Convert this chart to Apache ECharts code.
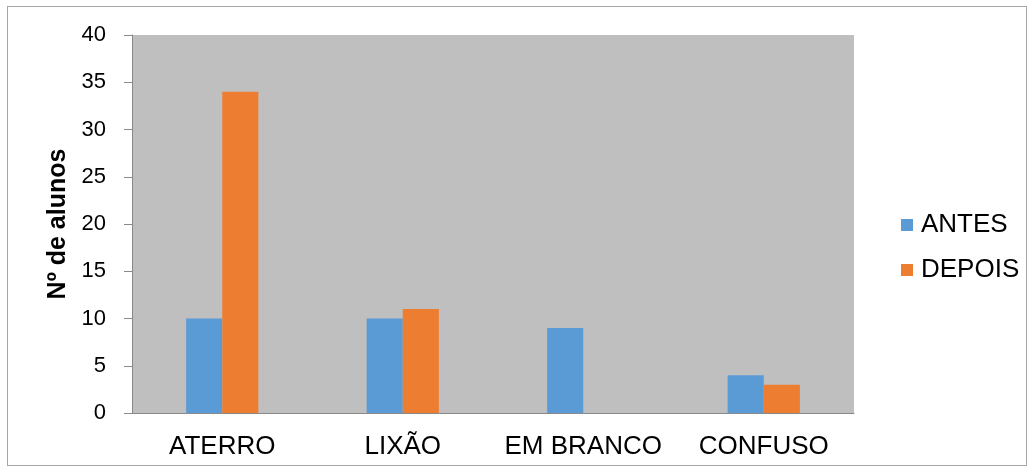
<!DOCTYPE html>
<html><head><meta charset="utf-8">
<script src="https://cdn.jsdelivr.net/npm/echarts@6/dist/echarts.min.js"></script>
<style>html,body{margin:0;padding:0;background:#fff}#c{width:1036px;height:475px}
#frame{position:absolute;left:7px;top:6px;width:1020px;height:460px;border:1px solid #a6a6a6;box-sizing:border-box;pointer-events:none}</style>
</head><body><div id="c"></div><div id="frame"></div>
<script>
const categories = ['ATERRO', 'LIXÃO', 'EM BRANCO', 'CONFUSO'];
const antes = [10, 10, 9, 4];
const depois = [34, 11, 0, 3];
const yTicks = [0, 5, 10, 15, 20, 25, 30, 35, 40];
const seriesNames = ['ANTES', 'DEPOIS'];
const yTitle = 'Nº de alunos';

const chart = echarts.init(document.getElementById('c'), null, {renderer: 'canvas'});
chart.setOption({
  animation: false,
  backgroundColor: '#ffffff',
  grid: {left: 132, right: 182, top: 35, bottom: 62, containLabel: false,
    show: true, backgroundColor: '#bfbfbf', borderWidth: 0},
  legend: {
    orient: 'vertical', left: 896, top: 207, itemWidth: 12, itemHeight: 12, itemGap: 19,
    icon: 'rect',
    textStyle: {fontFamily: 'Liberation Sans, Arial', fontSize: 26, color: '#000', padding: [0,0,0,3]},
    data: seriesNames
  },
  xAxis: {
    type: 'category', data: categories,
    axisLine: {show: true, lineStyle: {color: '#898989', width: 1}},
    axisTick: {show: false},
    axisLabel: {interval: 0, hideOverlap: false, fontFamily: 'Liberation Sans, Arial', fontSize: 26, color: '#000', margin: 21}
  },
  yAxis: {
    type: 'value', min: yTicks[0], max: yTicks[yTicks.length-1], interval: 5,
    name: yTitle, nameLocation: 'middle', nameGap: 57, nameRotate: 90,
    nameTextStyle: {fontFamily: 'Liberation Sans, Arial', fontSize: 25, fontWeight: 'bold', color: '#000'},
    splitLine: {show: false},
    axisLine: {show: true, lineStyle: {color: '#898989', width: 1}},
    axisTick: {show: true, length: 8, lineStyle: {color: '#898989'}},
    axisLabel: {fontFamily: 'Liberation Sans, Arial', fontSize: 22, color: '#000', margin: 26}
  },
  series: [
    {name: seriesNames[0], type: 'bar', data: antes, barCategoryGap: '60%', barGap: '0%',
      itemStyle: {color: '#5b9bd5'}},
    {name: seriesNames[1], type: 'bar', data: depois, barCategoryGap: '60%', barGap: '0%',
      itemStyle: {color: '#ed7d31'}}
  ]
});
</script></body></html>
